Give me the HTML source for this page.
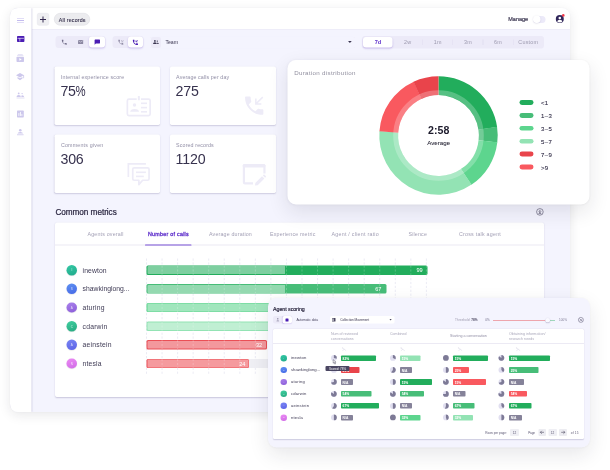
<!DOCTYPE html>
<html lang="en"><head><meta charset="utf-8"><title>Dashboard</title>
<style>
*{box-sizing:border-box;margin:0;padding:0}
html,body{width:610px;height:470px;overflow:hidden;background:#fff}
body{position:relative;font-family:"Liberation Sans",sans-serif}
div,span,svg{position:absolute;display:block}
.t{white-space:nowrap}
.t i{font-style:normal;display:inline-block;transform:scaleX(.8);transform-origin:0 50%}
svg{overflow:visible}
#z{left:0;top:0;width:1220px;height:940px;transform:scale(.5);transform-origin:0 0}
</style></head><body><div id="z">
<div style="left:20px;top:16px;width:1120px;height:808px;background:#f4f4fe;border-radius:16px;box-shadow:0 6px 24px rgba(30,30,50,.10),0 0 4px rgba(30,30,50,.06);overflow:hidden;"><div style="left:43px;top:0;width:1080px;height:43.4px;background:#fff;border-bottom:1.6px solid #e3e1f3"></div><div style="left:0;top:0;width:42.6px;height:808px;background:#fff;box-shadow:0.8px 0 3.2px rgba(110,100,160,.32)"></div></div>
<div style="left:33.6px;top:36.1px;width:14.6px;height:1.4px;background:#c3bbee;border-radius:0px;"></div>
<div style="left:33.6px;top:40.3px;width:14.6px;height:1.4px;background:#c3bbee;border-radius:0px;"></div>
<div style="left:33.6px;top:44.5px;width:14.6px;height:1.4px;background:#c3bbee;border-radius:0px;"></div>
<svg style="left:33.6px;top:72.2px;" width="14.8" height="12" viewBox="0 0 74 60"><rect x="0" y="0" width="74" height="60" rx="7" fill="#4a1cb4"/><rect x="5" y="19" width="64" height="6" fill="#fff"/><rect x="26" y="22" width="6" height="33" fill="#fff"/></svg>
<svg style="left:33.4px;top:108px;" width="15" height="16" viewBox="0 0 75 80"><rect x="13" y="2" width="49" height="5" fill="#cdc8ec"/><rect x="6" y="14" width="63" height="5" fill="#cdc8ec"/><rect x="0" y="28" width="75" height="52" rx="7" fill="#cdc8ec"/><path d="M29 41 L52 54 L29 67Z" fill="#fff"/></svg>
<svg style="left:32.4px;top:145.6px;" width="17.6" height="14.8" viewBox="0 0 88 74"><path d="M40 0 L0 22 L40 44 L73 26 L73 52 L81 52 L81 22 Z" fill="#cdc8ec"/><path d="M15 39 L15 56 L40 72 L65 56 L65 39 L40 53 Z" fill="#cdc8ec"/></svg>
<svg style="left:32.6px;top:184.6px;" width="16" height="11.6" viewBox="0 0 80 58"><circle cx="22" cy="9" r="9" fill="#cdc8ec"/><circle cx="56" cy="11" r="7" fill="#cdc8ec"/><path d="M0 46 Q0 26 22 26 Q44 26 44 46 Z" fill="#cdc8ec"/><path d="M48 46 Q46 30 56 28 Q76 28 76 46 Z" fill="#cdc8ec"/><rect x="0" y="52" width="80" height="6" fill="#cdc8ec"/></svg>
<svg style="left:34.2px;top:220.8px;" width="13.6" height="13.8" viewBox="0 0 68 69"><rect width="68" height="69" rx="7" fill="#cdc8ec"/><rect x="15" y="26" width="8" height="28" fill="#fff"/><rect x="30" y="14" width="8" height="40" fill="#fff"/><rect x="45" y="36" width="8" height="18" fill="#fff"/></svg>
<svg style="left:34.2px;top:258.4px;" width="13.2" height="12.8" viewBox="0 0 66 64"><circle cx="33" cy="13" r="13" fill="#cdc8ec"/><path d="M6 46 Q6 30 33 30 Q60 30 60 46 Z" fill="#cdc8ec"/><rect x="0" y="54" width="66" height="8" fill="#cdc8ec"/></svg>
<div style="left:74.2px;top:26.2px;width:24.2px;height:25px;background:#efeff2;border-radius:4px;border:1px solid #e4e4ea;"></div>
<div style="left:80.4px;top:37.9px;width:11.8px;height:1.7px;background:#33284f;border-radius:0px;"></div>
<div style="left:85.44px;top:32.84px;width:1.7px;height:11.8px;background:#33284f;border-radius:0px;"></div>
<div style="left:108.2px;top:26.4px;width:71.6px;height:25px;background:#ececef;border-radius:12.6px;border:1px solid #dbdbe1;"></div>
<span class="t" style="left:117.4px;top:33.7px;font-size:10.6px;line-height:10.6px;color:#3a3550;letter-spacing:0.36px;-webkit-text-stroke:0.24px #3a3550;">All records</span>
<span class="t" style="left:1016.4px;top:32.3px;font-size:11px;line-height:11px;color:#3a3550;letter-spacing:0.04px;-webkit-text-stroke:0.36px #3a3550;">Manage</span>
<div style="left:1065.6px;top:31.8px;width:25.6px;height:14px;background:#eceaf9;border-radius:7px;"></div>
<div style="left:1066px;top:31.2px;width:15.2px;height:15.2px;background:#fff;border-radius:8px;box-shadow:0 1px 3px rgba(60,50,110,.18);"></div>
<svg style="left:1110.6px;top:28px;" width="18.8" height="18.8" viewBox="0 0 94 94"><circle cx="43" cy="51" r="40" fill="#30265a"/><circle cx="43" cy="40" r="13" fill="#fff"/><path d="M17 76 Q20 58 43 58 Q66 58 69 76 Q58 86 43 86 Q28 86 17 76Z" fill="#fff"/><circle cx="78" cy="14" r="13" fill="#f0384a"/></svg>
<div style="left:111.4px;top:72px;width:99.8px;height:24.2px;background:#eceaf8;border-radius:6px;"></div>
<div style="left:178.4px;top:73.2px;width:32px;height:21.8px;background:#fff;border-radius:6px;box-shadow:0 2px 4px rgba(84,36,194,.25);"></div>
<div style="left:224.8px;top:72px;width:62.4px;height:24.2px;background:#eceaf8;border-radius:6px;"></div>
<div style="left:255.8px;top:73.2px;width:30.6px;height:21.8px;background:#fff;border-radius:6px;box-shadow:0 2px 4px rgba(84,36,194,.25);"></div>
<svg style="left:122px;top:78.2px;" width="13.2" height="13.2" viewBox="0 0 24 24"><path d="M20 15.5c-1.25 0-2.45-.2-3.57-.57-.35-.11-.74-.03-1.02.24l-2.2 2.2c-2.83-1.44-5.15-3.75-6.59-6.59l2.2-2.21c.28-.26.36-.65.25-1C8.7 6.45 8.5 5.25 8.5 4c0-.55-.45-1-1-1H4c-.55 0-1 .45-1 1 0 9.390 7.610 17 17 17 .55 0 1-.45 1-1v-3.500c0-.55-.45-1-1-1z" fill="#6f6b88"/></svg>
<svg style="left:156.4px;top:80.2px;" width="10.4" height="8" viewBox="0 0 50 39"><rect width="50" height="39" rx="5" fill="#8c88a2"/><path d="M5 8 L25 21 L45 8" stroke="#eceaf8" stroke-width="5" fill="none"/></svg>
<svg style="left:189px;top:79.2px;" width="11.2" height="10.4" viewBox="0 0 58 56"><path d="M5 0 H53 Q58 0 58 5 V38 Q58 43 53 43 H14 L0 56 V5 Q0 0 5 0Z" fill="#4a1cb4"/></svg>
<svg style="left:234.8px;top:78.2px;" width="13.2" height="13.2" viewBox="0 0 24 24"><path d="M20 15.5c-1.25 0-2.45-.2-3.57-.57-.35-.11-.74-.03-1.02.24l-2.2 2.2c-2.83-1.44-5.15-3.75-6.59-6.59l2.2-2.21c.28-.26.36-.65.25-1C8.7 6.45 8.5 5.25 8.5 4c0-.55-.45-1-1-1H4c-.55 0-1 .45-1 1 0 9.390 7.610 17 17 17 .55 0 1-.45 1-1v-3.500c0-.55-.45-1-1-1z" fill="#8c88a2"/><path d="M13 4 L17.500 8.500 L22 4 M14 10.500 H21" stroke="#8c88a2" stroke-width="1.700" fill="none"/></svg>
<svg style="left:264.4px;top:78px;" width="13.6" height="13.6" viewBox="0 0 24 24"><path d="M20 15.5c-1.25 0-2.45-.2-3.57-.57-.35-.11-.74-.03-1.02.24l-2.2 2.2c-2.83-1.44-5.15-3.75-6.59-6.59l2.2-2.21c.28-.26.36-.65.25-1C8.7 6.45 8.5 5.25 8.5 4c0-.55-.45-1-1-1H4c-.55 0-1 .45-1 1 0 9.390 7.610 17 17 17 .55 0 1-.45 1-1v-3.500c0-.55-.45-1-1-1z" fill="#4a1cb4"/><path d="M20.400 3.600 L14 10 M14 4.500 V10 H19.500" stroke="#4a1cb4" stroke-width="2.200" fill="none"/></svg>
<div style="left:300px;top:72.6px;width:410px;height:24.4px;background:transparent;border-radius:4px;border-top:1.2px solid #efedf9;border-bottom:1.2px solid #efedf9;"></div>
<div style="left:302.4px;top:73.8px;width:20px;height:22px;background:#edebf8;border-radius:4px;"></div>
<svg style="left:306.4px;top:80.2px;" width="11.6" height="8.2" viewBox="0 0 58 41"><circle cx="19" cy="9" r="9" fill="#3a3550"/><circle cx="43" cy="11" r="7" fill="#3a3550"/><path d="M0 41 Q0 23 19 23 Q38 23 38 41Z" fill="#3a3550"/><path d="M41 41 Q42 27 45 24 Q58 25 58 41Z" fill="#3a3550"/></svg>
<span class="t" style="left:330.8px;top:79.6px;font-size:10.4px;line-height:10.4px;color:#3a3550;letter-spacing:-0.06px;">Team</span>
<svg style="left:695.8px;top:82.2px;" width="7.6" height="4.2" viewBox="0 0 46 26"><path d="M0 0 H46 L23 26Z" fill="#3a3550"/></svg>
<div style="left:724px;top:72px;width:364px;height:24.6px;background:#eceaf8;border-radius:6px;"></div>
<div style="left:726.4px;top:73.6px;width:58.8px;height:21.6px;background:#fff;border-radius:6px;box-shadow:0 2px 4px rgba(84,36,194,.28);"></div>
<span class="t" style="left:755.8px;transform:translateX(-50%);top:79px;font-size:11.2px;line-height:11.2px;color:#5e2fcb;font-weight:700;">7d</span>
<span class="t" style="left:815.2px;transform:translateX(-50%);top:79.2px;font-size:10.8px;line-height:10.8px;color:#9d9aaf;letter-spacing:0.5px;">2w</span>
<span class="t" style="left:875.6px;transform:translateX(-50%);top:79.2px;font-size:10.8px;line-height:10.8px;color:#9d9aaf;letter-spacing:0.5px;">1m</span>
<span class="t" style="left:935.8px;transform:translateX(-50%);top:79.2px;font-size:10.8px;line-height:10.8px;color:#9d9aaf;letter-spacing:0.5px;">3m</span>
<span class="t" style="left:996.2px;transform:translateX(-50%);top:79.2px;font-size:10.8px;line-height:10.8px;color:#9d9aaf;letter-spacing:0.5px;">6m</span>
<span class="t" style="left:1056.6px;transform:translateX(-50%);top:79.2px;font-size:10.8px;line-height:10.8px;color:#9d9aaf;letter-spacing:0.5px;">Custom</span>
<div style="left:844.6px;top:79px;width:1.2px;height:11.2px;background:#e0ddf0;border-radius:0px;"></div>
<div style="left:905px;top:79px;width:1.2px;height:11.2px;background:#e0ddf0;border-radius:0px;"></div>
<div style="left:965.4px;top:79px;width:1.2px;height:11.2px;background:#e0ddf0;border-radius:0px;"></div>
<div style="left:1025.8px;top:79px;width:1.2px;height:11.2px;background:#e0ddf0;border-radius:0px;"></div>
<div style="left:109.2px;top:133.4px;width:211.2px;height:116.6px;background:#fff;border-radius:3.6px;box-shadow:0 1.6px 3px rgba(70,60,120,.22);"></div>
<span class="t" style="left:121.8px;top:149.1px;font-size:10.6px;line-height:10.6px;color:#918ea6;letter-spacing:0.31px;">Internal experience score</span>
<span class="t" style="left:120.8px;top:167.6px;font-size:28.4px;line-height:28.4px;color:#37324e;letter-spacing:-0.7px;">75<i>%</i></span>
<div style="left:339.6px;top:133.4px;width:212.4px;height:116.6px;background:#fff;border-radius:3.6px;box-shadow:0 1.6px 3px rgba(70,60,120,.22);"></div>
<span class="t" style="left:352.2px;top:149.1px;font-size:10.6px;line-height:10.6px;color:#918ea6;letter-spacing:0.22px;">Average calls per day</span>
<span class="t" style="left:351.2px;top:167.6px;font-size:28.4px;line-height:28.4px;color:#37324e;letter-spacing:-0.46px;">275</span>
<div style="left:109.2px;top:269.4px;width:211.2px;height:116.6px;background:#fff;border-radius:3.6px;box-shadow:0 1.6px 3px rgba(70,60,120,.22);"></div>
<span class="t" style="left:121.8px;top:285.1px;font-size:10.6px;line-height:10.6px;color:#918ea6;letter-spacing:0.41px;">Comments given</span>
<span class="t" style="left:120.8px;top:303.6px;font-size:28.4px;line-height:28.4px;color:#37324e;letter-spacing:-0.33px;">306</span>
<div style="left:339.6px;top:269.4px;width:212.4px;height:116.6px;background:#fff;border-radius:3.6px;box-shadow:0 1.6px 3px rgba(70,60,120,.22);"></div>
<span class="t" style="left:352.2px;top:285.1px;font-size:10.6px;line-height:10.6px;color:#918ea6;letter-spacing:0.27px;">Scored records</span>
<span class="t" style="left:351.2px;top:303.6px;font-size:28.4px;line-height:28.4px;color:#37324e;letter-spacing:-0.27px;">1120</span>
<svg style="left:250px;top:190px;" width="56" height="46" viewBox="125 95 28 23"><rect x="127.35" y="99.05" width="22.8" height="16.6" rx="1.6" fill="none" stroke="#edebf7" stroke-width="1.7"/><rect x="136.7" y="97.5" width="4.3" height="3" fill="#fff"/><rect x="137.85" y="96" width="2" height="4.2" rx=".5" fill="#edebf7"/><circle cx="134.5" cy="105.1" r="1.75" fill="#edebf7"/><path d="M130.2 111.8 Q130.2 108.9 134.6 108.9 Q139 108.9 139 111.8Z" fill="#edebf7"/><rect x="141" y="102.5" width="6" height="1.6" fill="#edebf7"/><rect x="141" y="106.8" width="6" height="1.6" fill="#edebf7"/><rect x="141" y="111" width="6" height="1.6" fill="#edebf7"/></svg>
<svg style="left:483.6px;top:187.4px;" width="48.8" height="48.8" viewBox="0 0 24 24"><path d="M20 15.5c-1.25 0-2.45-.2-3.57-.57-.35-.11-.74-.03-1.02.24l-2.2 2.2c-2.83-1.44-5.15-3.75-6.59-6.59l2.2-2.21c.28-.26.36-.65.25-1C8.7 6.45 8.5 5.25 8.5 4c0-.55-.45-1-1-1H4c-.55 0-1 .45-1 1 0 9.390 7.610 17 17 17 .55 0 1-.45 1-1v-3.500c0-.55-.45-1-1-1z" fill="#edebf7"/><path d="M20.4 3.6 L13.6 10.4 M13.6 5 V10.4 H19" stroke="#edebf7" stroke-width="1.5" fill="none"/></svg>
<svg style="left:252px;top:322px;" width="52" height="52" viewBox="126 161 26 26"><path d="M128.35 177 V163.95 H145.9" fill="none" stroke="#edebf7" stroke-width="1.7"/><path d="M134.2 167.85 H147.6 Q149.05 167.85 149.05 169.3 V178.8 Q149.05 180.25 147.6 180.25 H142.6 L138.85 184.6 V180.25 H134.2 Q132.75 180.25 132.75 178.8 V169.3 Q132.75 167.85 134.2 167.85Z" fill="none" stroke="#edebf7" stroke-width="1.7" stroke-linejoin="round"/><rect x="136" y="171.5" width="9.9" height="1.6" fill="#edebf7"/><rect x="136" y="175.6" width="7.8" height="1.6" fill="#edebf7"/></svg>
<svg style="left:482px;top:324px;" width="52" height="50" viewBox="241 162 26 25"><path d="M253 183.3 H245 Q243.9 183.3 243.9 182.2 V166 H264.45 V173.6" fill="none" stroke="#edebf7" stroke-width="2.2"/><rect x="242.8" y="164" width="22.5" height="3.5" rx="1.2" fill="#edebf7"/><path d="M255 185.6 L255.3 182.9 L262 176.2 L264.4 178.6 L257.7 185.3Z" fill="#edebf7"/><path d="M262.8 175.4 L263.5 174.7 Q264 174.2 264.6 174.8 L265.8 176 Q266.3 176.6 265.8 177.1 L265.1 177.8Z" fill="#edebf7"/></svg>
<span class="t" style="left:110.8px;top:415.8px;font-size:16.4px;line-height:16.4px;color:#2a2640;letter-spacing:-0.09px;-webkit-text-stroke:0.44px #2a2640;">Common metrics</span>
<svg style="left:1072.2px;top:415.6px;" width="15.6" height="15.6" viewBox="0 0 80 80"><circle cx="40" cy="40" r="34" fill="none" stroke="#4a4660" stroke-width="6"/><path d="M40 20 V46 M28 36 L40 48 L52 36" stroke="#4a4660" stroke-width="7" fill="none"/><rect x="26" y="54" width="28" height="6" fill="#4a4660"/></svg>
<div style="left:110px;top:445px;width:978px;height:349.2px;background:#fff;border-radius:4px;box-shadow:0 1.6px 3px rgba(70,60,120,.25);"></div>
<div style="left:110px;top:489.2px;width:978px;height:1.4px;background:#eceaf4;border-radius:0px;"></div>
<span class="t" style="left:175px;top:462.7px;font-size:10.6px;line-height:10.6px;color:#a19eb4;letter-spacing:0.35px;">Agents overall</span>
<span class="t" style="left:418px;top:462.7px;font-size:10.6px;line-height:10.6px;color:#a19eb4;letter-spacing:0.34px;">Average duration</span>
<span class="t" style="left:540px;top:462.7px;font-size:10.6px;line-height:10.6px;color:#a19eb4;letter-spacing:0.37px;">Experience metric</span>
<span class="t" style="left:663px;top:462.7px;font-size:10.6px;line-height:10.6px;color:#a19eb4;letter-spacing:0.51px;">Agent / client ratio</span>
<span class="t" style="left:817px;top:462.7px;font-size:10.6px;line-height:10.6px;color:#a19eb4;letter-spacing:0.32px;">Silence</span>
<span class="t" style="left:918px;top:462.7px;font-size:10.6px;line-height:10.6px;color:#a19eb4;letter-spacing:0.47px;">Cross talk agent</span>
<span class="t" style="left:296px;top:462.7px;font-size:10.6px;line-height:10.6px;color:#5e2fcb;letter-spacing:0.56px;-webkit-text-stroke:0.6px #5e2fcb;">Number of calls</span>
<div style="left:290px;top:488.6px;width:93px;height:2.2px;background:#7a52d6;border-radius:1px;"></div>
<svg style="left:292px;top:516.6px;" width="564" height="232" viewBox="0 0 282 116"><g stroke="#dedded" stroke-width=".6" stroke-dasharray="2.2 1.7"><line x1="0.50" y1="0" x2="0.50" y2="116"/><line x1="16.05" y1="0" x2="16.05" y2="116"/><line x1="31.60" y1="0" x2="31.60" y2="116"/><line x1="47.15" y1="0" x2="47.15" y2="116"/><line x1="62.70" y1="0" x2="62.70" y2="116"/><line x1="78.25" y1="0" x2="78.25" y2="116"/><line x1="93.80" y1="0" x2="93.80" y2="116"/><line x1="109.35" y1="0" x2="109.35" y2="116"/><line x1="124.90" y1="0" x2="124.90" y2="116"/><line x1="140.45" y1="0" x2="140.45" y2="116"/><line x1="156.00" y1="0" x2="156.00" y2="116"/><line x1="171.55" y1="0" x2="171.55" y2="116"/><line x1="187.10" y1="0" x2="187.10" y2="116"/><line x1="202.65" y1="0" x2="202.65" y2="116"/><line x1="218.20" y1="0" x2="218.20" y2="116"/><line x1="233.75" y1="0" x2="233.75" y2="116"/><line x1="249.30" y1="0" x2="249.30" y2="116"/><line x1="264.85" y1="0" x2="264.85" y2="116"/><line x1="280.40" y1="0" x2="280.40" y2="116"/></g></svg>
<div style="left:133.2px;top:529.8px;width:20.8px;height:20.8px;background:linear-gradient(160deg,#35c9a5,#1fa98a);border-radius:10.4px;box-shadow:0 1px 2px rgba(0,0,0,.15);"></div>
<span class="t" style="left:143.6px;transform:translateX(-50%);top:537.4px;font-size:6px;line-height:6px;color:#fff;opacity:.75;">I</span>
<span class="t" style="left:165.2px;top:533.8px;font-size:13.6px;line-height:13.6px;color:#3f3b55;letter-spacing:0.19px;">inewton</span>
<div style="left:293px;top:530.8px;width:561.6px;height:18.8px;background:#22ad5c;border-radius:3px;overflow:hidden;"><div style="left:1.6px;top:1.6px;width:275.6px;height:15.6px;background:rgba(255,255,255,.42);border-radius:2px 0 0 2px"></div><svg style="left:-1px;top:0" width="564" height="18.8" viewBox="0 0 282 9.4"><g stroke="rgba(255,255,255,.38)" stroke-width=".6" stroke-dasharray="2.2 1.7"><line x1="16.05" y1="0" x2="16.05" y2="9.4"/><line x1="31.60" y1="0" x2="31.60" y2="9.4"/><line x1="47.15" y1="0" x2="47.15" y2="9.4"/><line x1="62.70" y1="0" x2="62.70" y2="9.4"/><line x1="78.25" y1="0" x2="78.25" y2="9.4"/><line x1="93.80" y1="0" x2="93.80" y2="9.4"/><line x1="109.35" y1="0" x2="109.35" y2="9.4"/><line x1="124.90" y1="0" x2="124.90" y2="9.4"/><line x1="140.45" y1="0" x2="140.45" y2="9.4"/><line x1="156.00" y1="0" x2="156.00" y2="9.4"/><line x1="171.55" y1="0" x2="171.55" y2="9.4"/><line x1="187.10" y1="0" x2="187.10" y2="9.4"/><line x1="202.65" y1="0" x2="202.65" y2="9.4"/><line x1="218.20" y1="0" x2="218.20" y2="9.4"/><line x1="233.75" y1="0" x2="233.75" y2="9.4"/><line x1="249.30" y1="0" x2="249.30" y2="9.4"/><line x1="264.85" y1="0" x2="264.85" y2="9.4"/><line x1="280.40" y1="0" x2="280.40" y2="9.4"/></g></svg></div>
<span class="t" style="left:839.2px;transform:translateX(-50%);top:534.8px;font-size:11.2px;line-height:11.2px;color:#fff;">99</span>
<div style="left:133.2px;top:567.4px;width:20.8px;height:20.8px;background:linear-gradient(160deg,#5f92f2,#4668e6);border-radius:10.4px;box-shadow:0 1px 2px rgba(0,0,0,.15);"></div>
<span class="t" style="left:143.6px;transform:translateX(-50%);top:575px;font-size:6px;line-height:6px;color:#fff;opacity:.75;">S</span>
<span class="t" style="left:165.2px;top:571.4px;font-size:13.6px;line-height:13.6px;color:#3f3b55;letter-spacing:0.01px;">shawkinglong...</span>
<div style="left:293px;top:568.4px;width:479.6px;height:18.8px;background:#47bd78;border-radius:3px;overflow:hidden;"><div style="left:1.6px;top:1.6px;width:275.6px;height:15.6px;background:rgba(255,255,255,.42);border-radius:2px 0 0 2px"></div><svg style="left:-1px;top:0" width="564" height="18.8" viewBox="0 0 282 9.4"><g stroke="rgba(255,255,255,.38)" stroke-width=".6" stroke-dasharray="2.2 1.7"><line x1="16.05" y1="0" x2="16.05" y2="9.4"/><line x1="31.60" y1="0" x2="31.60" y2="9.4"/><line x1="47.15" y1="0" x2="47.15" y2="9.4"/><line x1="62.70" y1="0" x2="62.70" y2="9.4"/><line x1="78.25" y1="0" x2="78.25" y2="9.4"/><line x1="93.80" y1="0" x2="93.80" y2="9.4"/><line x1="109.35" y1="0" x2="109.35" y2="9.4"/><line x1="124.90" y1="0" x2="124.90" y2="9.4"/><line x1="140.45" y1="0" x2="140.45" y2="9.4"/><line x1="156.00" y1="0" x2="156.00" y2="9.4"/><line x1="171.55" y1="0" x2="171.55" y2="9.4"/><line x1="187.10" y1="0" x2="187.10" y2="9.4"/><line x1="202.65" y1="0" x2="202.65" y2="9.4"/><line x1="218.20" y1="0" x2="218.20" y2="9.4"/><line x1="233.75" y1="0" x2="233.75" y2="9.4"/><line x1="249.30" y1="0" x2="249.30" y2="9.4"/><line x1="264.85" y1="0" x2="264.85" y2="9.4"/><line x1="280.40" y1="0" x2="280.40" y2="9.4"/></g></svg></div>
<span class="t" style="left:756.6px;transform:translateX(-50%);top:572.4px;font-size:11.2px;line-height:11.2px;color:#fff;">67</span>
<div style="left:133.2px;top:604.6px;width:20.8px;height:20.8px;background:linear-gradient(160deg,#ab82ec,#8a5cd8);border-radius:10.4px;box-shadow:0 1px 2px rgba(0,0,0,.15);"></div>
<span class="t" style="left:143.6px;transform:translateX(-50%);top:612.2px;font-size:6px;line-height:6px;color:#fff;opacity:.75;">A</span>
<span class="t" style="left:165.2px;top:608.6px;font-size:13.6px;line-height:13.6px;color:#3f3b55;letter-spacing:0.35px;">aturing</span>
<div style="left:293px;top:605.6px;width:507px;height:18.8px;background:#5dd58e;border-radius:3px;overflow:hidden;"><div style="left:1.6px;top:1.6px;width:275.6px;height:15.6px;background:rgba(255,255,255,.42);border-radius:2px 0 0 2px"></div><svg style="left:-1px;top:0" width="564" height="18.8" viewBox="0 0 282 9.4"><g stroke="rgba(255,255,255,.38)" stroke-width=".6" stroke-dasharray="2.2 1.7"><line x1="16.05" y1="0" x2="16.05" y2="9.4"/><line x1="31.60" y1="0" x2="31.60" y2="9.4"/><line x1="47.15" y1="0" x2="47.15" y2="9.4"/><line x1="62.70" y1="0" x2="62.70" y2="9.4"/><line x1="78.25" y1="0" x2="78.25" y2="9.4"/><line x1="93.80" y1="0" x2="93.80" y2="9.4"/><line x1="109.35" y1="0" x2="109.35" y2="9.4"/><line x1="124.90" y1="0" x2="124.90" y2="9.4"/><line x1="140.45" y1="0" x2="140.45" y2="9.4"/><line x1="156.00" y1="0" x2="156.00" y2="9.4"/><line x1="171.55" y1="0" x2="171.55" y2="9.4"/><line x1="187.10" y1="0" x2="187.10" y2="9.4"/><line x1="202.65" y1="0" x2="202.65" y2="9.4"/><line x1="218.20" y1="0" x2="218.20" y2="9.4"/><line x1="233.75" y1="0" x2="233.75" y2="9.4"/><line x1="249.30" y1="0" x2="249.30" y2="9.4"/><line x1="264.85" y1="0" x2="264.85" y2="9.4"/><line x1="280.40" y1="0" x2="280.40" y2="9.4"/></g></svg></div>
<div style="left:133.2px;top:642px;width:20.8px;height:20.8px;background:linear-gradient(160deg,#41d0a0,#27a880);border-radius:10.4px;box-shadow:0 1px 2px rgba(0,0,0,.15);"></div>
<span class="t" style="left:143.6px;transform:translateX(-50%);top:649.6px;font-size:6px;line-height:6px;color:#fff;opacity:.75;">C</span>
<span class="t" style="left:165.2px;top:646px;font-size:13.6px;line-height:13.6px;color:#3f3b55;letter-spacing:0.39px;">cdarwin</span>
<div style="left:293px;top:643px;width:367px;height:18.8px;background:#93e3b4;border-radius:3px;overflow:hidden;"><div style="left:1.6px;top:1.6px;width:275.6px;height:15.6px;background:rgba(255,255,255,.42);border-radius:2px 0 0 2px"></div><svg style="left:-1px;top:0" width="564" height="18.8" viewBox="0 0 282 9.4"><g stroke="rgba(255,255,255,.38)" stroke-width=".6" stroke-dasharray="2.2 1.7"><line x1="16.05" y1="0" x2="16.05" y2="9.4"/><line x1="31.60" y1="0" x2="31.60" y2="9.4"/><line x1="47.15" y1="0" x2="47.15" y2="9.4"/><line x1="62.70" y1="0" x2="62.70" y2="9.4"/><line x1="78.25" y1="0" x2="78.25" y2="9.4"/><line x1="93.80" y1="0" x2="93.80" y2="9.4"/><line x1="109.35" y1="0" x2="109.35" y2="9.4"/><line x1="124.90" y1="0" x2="124.90" y2="9.4"/><line x1="140.45" y1="0" x2="140.45" y2="9.4"/><line x1="156.00" y1="0" x2="156.00" y2="9.4"/><line x1="171.55" y1="0" x2="171.55" y2="9.4"/><line x1="187.10" y1="0" x2="187.10" y2="9.4"/><line x1="202.65" y1="0" x2="202.65" y2="9.4"/><line x1="218.20" y1="0" x2="218.20" y2="9.4"/><line x1="233.75" y1="0" x2="233.75" y2="9.4"/><line x1="249.30" y1="0" x2="249.30" y2="9.4"/><line x1="264.85" y1="0" x2="264.85" y2="9.4"/><line x1="280.40" y1="0" x2="280.40" y2="9.4"/></g></svg></div>
<div style="left:133.2px;top:679.2px;width:20.8px;height:20.8px;background:linear-gradient(160deg,#7a86f4,#5b62e6);border-radius:10.4px;box-shadow:0 1px 2px rgba(0,0,0,.15);"></div>
<span class="t" style="left:143.6px;transform:translateX(-50%);top:686.8px;font-size:6px;line-height:6px;color:#fff;opacity:.75;">A</span>
<span class="t" style="left:165.2px;top:683.2px;font-size:13.6px;line-height:13.6px;color:#3f3b55;letter-spacing:0.42px;">aeinstein</span>
<div style="left:293px;top:680.2px;width:240.6px;height:18.8px;background:#ea4f56;border-radius:3px;overflow:hidden;"><div style="left:1.6px;top:1.6px;width:237.4px;height:15.6px;background:rgba(255,255,255,.42);border-radius:2px"></div><svg style="left:-1px;top:0" width="564" height="18.8" viewBox="0 0 282 9.4"><g stroke="rgba(255,255,255,.38)" stroke-width=".6" stroke-dasharray="2.2 1.7"><line x1="16.05" y1="0" x2="16.05" y2="9.4"/><line x1="31.60" y1="0" x2="31.60" y2="9.4"/><line x1="47.15" y1="0" x2="47.15" y2="9.4"/><line x1="62.70" y1="0" x2="62.70" y2="9.4"/><line x1="78.25" y1="0" x2="78.25" y2="9.4"/><line x1="93.80" y1="0" x2="93.80" y2="9.4"/><line x1="109.35" y1="0" x2="109.35" y2="9.4"/><line x1="124.90" y1="0" x2="124.90" y2="9.4"/><line x1="140.45" y1="0" x2="140.45" y2="9.4"/><line x1="156.00" y1="0" x2="156.00" y2="9.4"/><line x1="171.55" y1="0" x2="171.55" y2="9.4"/><line x1="187.10" y1="0" x2="187.10" y2="9.4"/><line x1="202.65" y1="0" x2="202.65" y2="9.4"/><line x1="218.20" y1="0" x2="218.20" y2="9.4"/><line x1="233.75" y1="0" x2="233.75" y2="9.4"/><line x1="249.30" y1="0" x2="249.30" y2="9.4"/><line x1="264.85" y1="0" x2="264.85" y2="9.4"/><line x1="280.40" y1="0" x2="280.40" y2="9.4"/></g></svg></div>
<span class="t" style="left:518px;transform:translateX(-50%);top:684.2px;font-size:11.2px;line-height:11.2px;color:#fff;">32</span>
<div style="left:133.2px;top:716.6px;width:20.8px;height:20.8px;background:linear-gradient(160deg,#ec8af4,#cf6be6);border-radius:10.4px;box-shadow:0 1px 2px rgba(0,0,0,.15);"></div>
<span class="t" style="left:143.6px;transform:translateX(-50%);top:724.2px;font-size:6px;line-height:6px;color:#fff;opacity:.75;">N</span>
<span class="t" style="left:165.2px;top:720.6px;font-size:13.6px;line-height:13.6px;color:#3f3b55;letter-spacing:0.32px;">ntesla</span>
<div style="left:293px;top:717.6px;width:320px;height:18.8px;background:#efeff4;border-radius:3px;"></div>
<div style="left:293px;top:717.6px;width:205.4px;height:18.8px;background:#ee5158;border-radius:3px;overflow:hidden;"><div style="left:1.6px;top:1.6px;width:202.2px;height:15.6px;background:rgba(255,255,255,.42);border-radius:2px"></div><svg style="left:-1px;top:0" width="564" height="18.8" viewBox="0 0 282 9.4"><g stroke="rgba(255,255,255,.38)" stroke-width=".6" stroke-dasharray="2.2 1.7"><line x1="16.05" y1="0" x2="16.05" y2="9.4"/><line x1="31.60" y1="0" x2="31.60" y2="9.4"/><line x1="47.15" y1="0" x2="47.15" y2="9.4"/><line x1="62.70" y1="0" x2="62.70" y2="9.4"/><line x1="78.25" y1="0" x2="78.25" y2="9.4"/><line x1="93.80" y1="0" x2="93.80" y2="9.4"/><line x1="109.35" y1="0" x2="109.35" y2="9.4"/><line x1="124.90" y1="0" x2="124.90" y2="9.4"/><line x1="140.45" y1="0" x2="140.45" y2="9.4"/><line x1="156.00" y1="0" x2="156.00" y2="9.4"/><line x1="171.55" y1="0" x2="171.55" y2="9.4"/><line x1="187.10" y1="0" x2="187.10" y2="9.4"/><line x1="202.65" y1="0" x2="202.65" y2="9.4"/><line x1="218.20" y1="0" x2="218.20" y2="9.4"/><line x1="233.75" y1="0" x2="233.75" y2="9.4"/><line x1="249.30" y1="0" x2="249.30" y2="9.4"/><line x1="264.85" y1="0" x2="264.85" y2="9.4"/><line x1="280.40" y1="0" x2="280.40" y2="9.4"/></g></svg></div>
<span class="t" style="left:484.6px;transform:translateX(-50%);top:721.6px;font-size:11.2px;line-height:11.2px;color:#fff;">24</span>
<div style="left:574.8px;top:119.8px;width:604.4px;height:289.2px;background:#fff;border-radius:17px;box-shadow:0 14px 40px rgba(30,30,50,.105),0 0 6px rgba(30,30,50,.05);"></div>
<span class="t" style="left:588.4px;top:138.6px;font-size:12.4px;line-height:12.4px;color:#918f9f;letter-spacing:0.61px;">Duration distribution</span>
<svg style="left:737px;top:131px;" width="280" height="280" viewBox="0 0 140 140"><path d="M70.00 10.80 A59.2 59.2 0 0 1 128.59 61.56 L109.99 64.24 A40.4 40.4 0 0 0 70.00 29.60Z" fill="#22ad5c"/><path d="M128.55 61.25 A59.2 59.2 0 0 1 128.77 77.11 L110.11 74.85 A40.4 40.4 0 0 0 109.96 64.03Z" fill="#47bd78"/><path d="M128.81 76.80 A59.2 59.2 0 0 1 102.85 119.25 L92.42 103.61 A40.4 40.4 0 0 0 110.13 74.64Z" fill="#5dd58e"/><path d="M103.10 119.08 A59.2 59.2 0 0 1 10.97 65.56 L29.71 66.97 A40.4 40.4 0 0 0 92.59 103.49Z" fill="#93e3b4"/><path d="M10.94 65.87 A59.2 59.2 0 0 1 45.26 16.22 L53.12 33.30 A40.4 40.4 0 0 0 29.70 67.18Z" fill="#f9595f"/><path d="M44.98 16.35 A59.2 59.2 0 0 1 70.00 10.80 L70.00 29.60 A40.4 40.4 0 0 0 52.93 33.39Z" fill="#e9444b"/><circle cx="70" cy="70" r="42.849999999999994" fill="none" stroke="rgba(255,255,255,.24)" stroke-width="4.899999999999999"/></svg>
<span class="t" style="left:877.4px;transform:translateX(-50%);top:250.2px;font-size:21.2px;line-height:21.2px;color:#1d1b2c;font-weight:700;">2:58</span>
<span class="t" style="left:877.4px;transform:translateX(-50%);top:279.4px;font-size:12.4px;line-height:12.4px;color:#1d1b2c;-webkit-text-stroke:0.1px #1d1b2c;">Average</span>
<div style="left:1039.2px;top:200.1px;width:27.4px;height:9.8px;background:#22ad5c;border-radius:4.9px;"></div>
<span class="t" style="left:1081.8px;top:199.8px;font-size:12px;line-height:12px;color:#2f2b45;-webkit-text-stroke:0.2px #2f2b45;letter-spacing:0.9px;">&lt;1</span>
<div style="left:1039.2px;top:225.9px;width:27.4px;height:9.8px;background:#47bd78;border-radius:4.9px;"></div>
<span class="t" style="left:1081.8px;top:225.6px;font-size:12px;line-height:12px;color:#2f2b45;-webkit-text-stroke:0.2px #2f2b45;letter-spacing:0.9px;">1–3</span>
<div style="left:1039.2px;top:251.7px;width:27.4px;height:9.8px;background:#5dd58e;border-radius:4.9px;"></div>
<span class="t" style="left:1081.8px;top:251.4px;font-size:12px;line-height:12px;color:#2f2b45;-webkit-text-stroke:0.2px #2f2b45;letter-spacing:0.9px;">3–5</span>
<div style="left:1039.2px;top:277.5px;width:27.4px;height:9.8px;background:#93e3b4;border-radius:4.9px;"></div>
<span class="t" style="left:1081.8px;top:277.2px;font-size:12px;line-height:12px;color:#2f2b45;-webkit-text-stroke:0.2px #2f2b45;letter-spacing:0.9px;">5–7</span>
<div style="left:1039.2px;top:303.3px;width:27.4px;height:9.8px;background:#e9444b;border-radius:4.9px;"></div>
<span class="t" style="left:1081.8px;top:303px;font-size:12px;line-height:12px;color:#2f2b45;-webkit-text-stroke:0.2px #2f2b45;letter-spacing:0.9px;">7–9</span>
<div style="left:1039.2px;top:329.1px;width:27.4px;height:9.8px;background:#f9595f;border-radius:4.9px;"></div>
<span class="t" style="left:1081.8px;top:328.8px;font-size:12px;line-height:12px;color:#2f2b45;-webkit-text-stroke:0.2px #2f2b45;letter-spacing:0.9px;">&gt;9</span>
<div style="left:536.4px;top:595.8px;width:643.2px;height:299.2px;background:#f4f4fe;border-radius:17px;box-shadow:0 14px 40px rgba(30,30,50,.10),0 0 6px rgba(30,30,50,.05);"></div>
<span class="t" style="left:546.2px;top:612.7px;font-size:10.6px;line-height:10.6px;color:#231f38;letter-spacing:-0.12px;-webkit-text-stroke:0.36px #231f38;">Agent scoring</span>
<div style="left:545.6px;top:631.8px;width:38.4px;height:15.6px;background:#eceaf8;border-radius:4px;"></div>
<div style="left:565.2px;top:632.4px;width:18.4px;height:14.4px;background:#fff;border-radius:4px;box-shadow:0 1px 2px rgba(84,36,194,.25);"></div>
<svg style="left:552.8px;top:636px;" width="5.2" height="6.8" viewBox="0 0 26 34"><circle cx="13" cy="8" r="7" fill="#8c88a2"/><path d="M2 24 Q2 17 13 17 Q24 17 24 24Z" fill="#8c88a2"/><rect y="29" width="26" height="4" fill="#8c88a2"/></svg>
<div style="left:571.4px;top:636.6px;width:6px;height:6px;background:#4a1cb4;border-radius:1px;"></div>
<span class="t" style="left:592.8px;top:636.7px;font-size:6.6px;line-height:6.6px;color:#4a4660;letter-spacing:-0.06px;">Automatic data</span>
<div style="left:660.4px;top:631.8px;width:128.4px;height:15.6px;background:#fff;border-radius:3px;"></div>
<div style="left:663.8px;top:636.2px;width:7.6px;height:6.8px;background:#4a4660;border-radius:1px;"><div style="left:1.2px;top:1.2px;width:2.4px;height:4.4px;background:#fff"></div></div>
<span class="t" style="left:680.4px;top:636.8px;font-size:6.4px;line-height:6.4px;color:#3a3550;letter-spacing:-0.09px;">Collection Movement</span>
<svg style="left:778.8px;top:638.4px;" width="4.4" height="2.8" viewBox="0 0 22 14"><path d="M0 0H22L11 14Z" fill="#4a4660"/></svg>
<span class="t" style="left:910px;top:636.9px;font-size:6.2px;line-height:6.2px;color:#9b98ad;letter-spacing:0.16px;">Threshold:</span>
<span class="t" style="left:942.4px;top:636.9px;font-size:6.2px;line-height:6.2px;color:#4a4660;font-weight:700;letter-spacing:0.14px;">78%</span>
<span class="t" style="left:970.4px;top:636.9px;font-size:6.2px;line-height:6.2px;color:#6f6b88;">0%</span>
<div style="left:986.4px;top:639.9px;width:104.6px;height:1.5px;background:#e9565d;border-radius:0px;"></div>
<div style="left:1098px;top:639.9px;width:12.4px;height:1.5px;background:#4dbb7b;border-radius:0px;"></div>
<div style="left:1090.8px;top:636px;width:9.2px;height:9.2px;background:#f9f9ff;border-radius:4.6px;box-shadow:0 1.2px 2.4px rgba(40,30,90,.38);"></div>
<span class="t" style="left:1118px;top:636.9px;font-size:6.2px;line-height:6.2px;color:#7d7a94;">100%</span>
<svg style="left:1156px;top:634.4px;" width="11.6" height="11.6" viewBox="0 0 58 58"><circle cx="29" cy="29" r="25" fill="none" stroke="#4a4663" stroke-width="4.500"/><path d="M15 17 L44 42 M17 38 Q29 24 42 28" stroke="#4a4663" stroke-width="4.500" fill="none"/></svg>
<div style="left:545.6px;top:657.8px;width:622.2px;height:220px;background:#fff;border-radius:3px;box-shadow:0 1.2px 2.4px rgba(70,60,120,.22);"></div>
<div style="left:545.6px;top:686.4px;width:622.2px;height:1.2px;background:#eceaf4;border-radius:0px;"></div>
<span class="t" style="left:662px;top:663.4px;font-size:7.2px;line-height:7.2px;color:#a9a7ba;letter-spacing:0px;">Num of reviewed</span>
<span class="t" style="left:662px;top:673.2px;font-size:7.2px;line-height:7.2px;color:#a9a7ba;letter-spacing:0.06px;">conversations</span>
<span class="t" style="left:780px;top:663.4px;font-size:7.2px;line-height:7.2px;color:#a9a7ba;letter-spacing:0.03px;">Combined</span>
<span class="t" style="left:900px;top:668.4px;font-size:7.2px;line-height:7.2px;color:#8f8ca3;letter-spacing:0px;">Starting a conversation</span>
<span class="t" style="left:1018px;top:663.4px;font-size:7.2px;line-height:7.2px;color:#a9a7ba;letter-spacing:0.13px;">Obtaining information/</span>
<span class="t" style="left:1018px;top:673.2px;font-size:7.2px;line-height:7.2px;color:#a9a7ba;letter-spacing:0.03px;">research needs</span>
<svg style="left:683.6px;top:694.6px;" width="9.2" height="7.6" viewBox="0 0 46 38"><path d="M4 4 L42 32 M4 32 L24 17" stroke="#d3d1e2" stroke-width="4.500" fill="none"/><circle cx="6" cy="5" r="4" fill="none" stroke="#d3d1e2" stroke-width="3"/></svg>
<svg style="left:800.8px;top:694.6px;" width="9.2" height="7.6" viewBox="0 0 46 38"><path d="M4 4 L42 32 M4 32 L24 17" stroke="#d3d1e2" stroke-width="4.500" fill="none"/><circle cx="6" cy="5" r="4" fill="none" stroke="#d3d1e2" stroke-width="3"/></svg>
<svg style="left:916px;top:694.6px;" width="9.2" height="7.6" viewBox="0 0 46 38"><path d="M4 4 L42 32 M4 32 L24 17" stroke="#d3d1e2" stroke-width="4.500" fill="none"/><circle cx="6" cy="5" r="4" fill="none" stroke="#d3d1e2" stroke-width="3"/></svg>
<svg style="left:1032px;top:694.6px;" width="9.2" height="7.6" viewBox="0 0 46 38"><path d="M4 4 L42 32 M4 32 L24 17" stroke="#d3d1e2" stroke-width="4.500" fill="none"/><circle cx="6" cy="5" r="4" fill="none" stroke="#d3d1e2" stroke-width="3"/></svg>
<div style="left:561.2px;top:709.8px;width:12.8px;height:12.8px;background:linear-gradient(160deg,#35c9a5,#1fa98a);border-radius:6.4px;"></div>
<span class="t" style="left:567.6px;transform:translateX(-50%);top:714px;font-size:4.4px;line-height:4.4px;color:#fff;opacity:.6;">I</span>
<span class="t" style="left:582px;top:711.4px;font-size:8.4px;line-height:8.4px;color:#3f3b55;letter-spacing:0.28px;">inewton</span>
<div style="left:561.2px;top:733.6px;width:12.8px;height:12.8px;background:linear-gradient(160deg,#5f92f2,#4668e6);border-radius:6.4px;"></div>
<span class="t" style="left:567.6px;transform:translateX(-50%);top:737.8px;font-size:4.4px;line-height:4.4px;color:#fff;opacity:.6;">S</span>
<span class="t" style="left:582px;top:735.2px;font-size:8.4px;line-height:8.4px;color:#3f3b55;letter-spacing:0.04px;">shawkinglong...</span>
<div style="left:561.2px;top:757.6px;width:12.8px;height:12.8px;background:linear-gradient(160deg,#ab82ec,#8a5cd8);border-radius:6.4px;"></div>
<span class="t" style="left:567.6px;transform:translateX(-50%);top:761.8px;font-size:4.4px;line-height:4.4px;color:#fff;opacity:.6;">A</span>
<span class="t" style="left:582px;top:759.2px;font-size:8.4px;line-height:8.4px;color:#3f3b55;letter-spacing:0.34px;">aturing</span>
<div style="left:561.2px;top:781.4px;width:12.8px;height:12.8px;background:linear-gradient(160deg,#41d0a0,#27a880);border-radius:6.4px;"></div>
<span class="t" style="left:567.6px;transform:translateX(-50%);top:785.6px;font-size:4.4px;line-height:4.4px;color:#fff;opacity:.6;">C</span>
<span class="t" style="left:582px;top:783px;font-size:8.4px;line-height:8.4px;color:#3f3b55;letter-spacing:0.33px;">cdarwin</span>
<div style="left:561.2px;top:805.2px;width:12.8px;height:12.8px;background:linear-gradient(160deg,#7a86f4,#5b62e6);border-radius:6.4px;"></div>
<span class="t" style="left:567.6px;transform:translateX(-50%);top:809.4px;font-size:4.4px;line-height:4.4px;color:#fff;opacity:.6;">A</span>
<span class="t" style="left:582px;top:806.8px;font-size:8.4px;line-height:8.4px;color:#3f3b55;letter-spacing:0.32px;">aeinstein</span>
<div style="left:561.2px;top:828.8px;width:12.8px;height:12.8px;background:linear-gradient(160deg,#ec8af4,#cf6be6);border-radius:6.4px;"></div>
<span class="t" style="left:567.6px;transform:translateX(-50%);top:833px;font-size:4.4px;line-height:4.4px;color:#fff;opacity:.6;">N</span>
<span class="t" style="left:582px;top:830.4px;font-size:8.4px;line-height:8.4px;color:#3f3b55;letter-spacing:0.27px;">ntesla</span>
<svg style="left:662.2px;top:710.4px;" width="11.6" height="11.6" viewBox="0 0 5.8 5.8"><circle cx="2.9" cy="2.9" r="2.9" fill="#e1dff0"/><path d="M2.9 2.9 L2.9 0 A2.9 2.9 0 0 1 5.66 3.80Z" fill="#7d7a96"/></svg>
<div style="left:681.8px;top:710.6px;width:69.8px;height:11.2px;background:#22ad5c;border-radius:1.6px;"></div>
<span class="t" style="left:685.2px;top:713.8px;font-size:6.6px;line-height:6.6px;color:#fff;font-weight:700;">82%</span>
<svg style="left:662.2px;top:734.2px;" width="11.6" height="11.6" viewBox="0 0 5.8 5.8"><circle cx="2.9" cy="2.9" r="2.9" fill="#e1dff0"/><path d="M2.9 2.9 L2.9 0 A2.9 2.9 0 0 1 5.66 3.80Z" fill="#7d7a96"/></svg>
<div style="left:681.8px;top:734.4px;width:37.2px;height:11.2px;background:#e9444b;border-radius:1.6px;"></div>
<span class="t" style="left:685.2px;top:737.6px;font-size:6.6px;line-height:6.6px;color:#fff;font-weight:700;">25%</span>
<svg style="left:662.2px;top:758.2px;" width="11.6" height="11.6" viewBox="0 0 5.8 5.8"><circle cx="2.9" cy="2.9" r="2.9" fill="#e1dff0"/><path d="M2.9 2.9 L2.9 0 A2.9 2.9 0 1 1 0.05 3.44Z" fill="#7d7a96"/></svg>
<div style="left:681.8px;top:758.4px;width:24.2px;height:11.2px;background:#858299;border-radius:1.6px;"></div>
<span class="t" style="left:685.2px;top:761.6px;font-size:6.6px;line-height:6.6px;color:#fff;font-weight:700;">N/A</span>
<svg style="left:662.2px;top:782px;" width="11.6" height="11.6" viewBox="0 0 5.8 5.8"><circle cx="2.9" cy="2.9" r="2.9" fill="#e1dff0"/><path d="M2.9 2.9 L2.9 0 A2.9 2.9 0 1 1 0.55 1.20Z" fill="#7d7a96"/></svg>
<div style="left:681.8px;top:782.2px;width:60.8px;height:11.2px;background:#47bd78;border-radius:1.6px;"></div>
<span class="t" style="left:685.2px;top:785.4px;font-size:6.6px;line-height:6.6px;color:#fff;font-weight:700;">54%</span>
<svg style="left:662.2px;top:805.8px;" width="11.6" height="11.6" viewBox="0 0 5.8 5.8"><circle cx="2.9" cy="2.9" r="2.9" fill="#e1dff0"/><path d="M2.9 2.9 L2.9 0 A2.9 2.9 0 1 1 1.20 5.25Z" fill="#7d7a96"/></svg>
<div style="left:681.8px;top:806px;width:76.2px;height:11.2px;background:#22ad5c;border-radius:1.6px;"></div>
<span class="t" style="left:685.2px;top:809.2px;font-size:6.6px;line-height:6.6px;color:#fff;font-weight:700;">67%</span>
<svg style="left:662.2px;top:829.4px;" width="11.6" height="11.6" viewBox="0 0 5.8 5.8"><circle cx="2.9" cy="2.9" r="2.9" fill="#e1dff0"/><path d="M2.9 2.9 L2.9 0 A2.9 2.9 0 0 1 2.90 5.80Z" fill="#7d7a96"/></svg>
<div style="left:681.8px;top:829.6px;width:24.2px;height:11.2px;background:#858299;border-radius:1.6px;"></div>
<span class="t" style="left:685.2px;top:832.8px;font-size:6.6px;line-height:6.6px;color:#fff;font-weight:700;">N/A</span>
<svg style="left:779.8px;top:710.4px;" width="11.6" height="11.6" viewBox="0 0 5.8 5.8"><circle cx="2.9" cy="2.9" r="2.9" fill="#e1dff0"/><path d="M2.9 2.9 L2.9 0 A2.9 2.9 0 0 1 5.44 4.30Z" fill="#7d7a96"/></svg>
<div style="left:800px;top:710.6px;width:41.2px;height:11.2px;background:#93e3b4;border-radius:1.6px;"></div>
<span class="t" style="left:803.4px;top:713.8px;font-size:6.6px;line-height:6.6px;color:#fff;font-weight:700;">15%</span>
<svg style="left:779.8px;top:734.2px;" width="11.6" height="11.6" viewBox="0 0 5.8 5.8"><circle cx="2.9" cy="2.9" r="2.9" fill="#e1dff0"/><path d="M2.9 2.9 L2.9 0 A2.9 2.9 0 1 1 1.20 5.25Z" fill="#7d7a96"/></svg>
<div style="left:800px;top:734.4px;width:24px;height:11.2px;background:#858299;border-radius:1.6px;"></div>
<span class="t" style="left:803.4px;top:737.6px;font-size:6.6px;line-height:6.6px;color:#fff;font-weight:700;">N/A</span>
<svg style="left:779.8px;top:758.2px;" width="11.6" height="11.6" viewBox="0 0 5.8 5.8"><circle cx="2.9" cy="2.9" r="2.9" fill="#e1dff0"/><path d="M2.9 2.9 L2.9 0 A2.9 2.9 0 0 1 2.90 5.80Z" fill="#7d7a96"/></svg>
<div style="left:800px;top:758.4px;width:64px;height:11.2px;background:#22ad5c;border-radius:1.6px;"></div>
<span class="t" style="left:803.4px;top:761.6px;font-size:6.6px;line-height:6.6px;color:#fff;font-weight:700;">15%</span>
<svg style="left:779.8px;top:782px;" width="11.6" height="11.6" viewBox="0 0 5.8 5.8"><circle cx="2.9" cy="2.9" r="2.9" fill="#e1dff0"/><path d="M2.9 2.9 L2.9 0 A2.9 2.9 0 1 1 0.55 1.20Z" fill="#7d7a96"/></svg>
<div style="left:800px;top:782.2px;width:47.6px;height:11.2px;background:#47bd78;border-radius:1.6px;"></div>
<span class="t" style="left:803.4px;top:785.4px;font-size:6.6px;line-height:6.6px;color:#fff;font-weight:700;">54%</span>
<svg style="left:779.8px;top:805.8px;" width="11.6" height="11.6" viewBox="0 0 5.8 5.8"><circle cx="2.9" cy="2.9" r="2.9" fill="#e1dff0"/><path d="M2.9 2.9 L2.9 0 A2.9 2.9 0 0 1 2.90 5.80Z" fill="#7d7a96"/></svg>
<div style="left:800px;top:806px;width:24px;height:11.2px;background:#858299;border-radius:1.6px;"></div>
<span class="t" style="left:803.4px;top:809.2px;font-size:6.6px;line-height:6.6px;color:#fff;font-weight:700;">N/A</span>
<svg style="left:779.8px;top:829.4px;" width="11.6" height="11.6" viewBox="0 0 5.8 5.8"><circle cx="2.9" cy="2.9" r="2.9" fill="#7d7a96"/></svg>
<div style="left:800px;top:829.6px;width:41.2px;height:11.2px;background:#5dd58e;border-radius:1.6px;"></div>
<span class="t" style="left:803.4px;top:832.8px;font-size:6.6px;line-height:6.6px;color:#fff;font-weight:700;">32%</span>
<svg style="left:886px;top:710.4px;" width="11.6" height="11.6" viewBox="0 0 5.8 5.8"><circle cx="2.9" cy="2.9" r="2.9" fill="#7d7a96"/></svg>
<div style="left:906px;top:710.6px;width:70.4px;height:11.2px;background:#22ad5c;border-radius:1.6px;"></div>
<span class="t" style="left:909.4px;top:713.8px;font-size:6.6px;line-height:6.6px;color:#fff;font-weight:700;">15%</span>
<svg style="left:886px;top:734.2px;" width="11.6" height="11.6" viewBox="0 0 5.8 5.8"><circle cx="2.9" cy="2.9" r="2.9" fill="#e1dff0"/><path d="M2.9 2.9 L2.9 0 A2.9 2.9 0 0 1 2.90 5.80Z" fill="#7d7a96"/></svg>
<div style="left:906px;top:734.4px;width:31.8px;height:11.2px;background:#f9595f;border-radius:1.6px;"></div>
<span class="t" style="left:909.4px;top:737.6px;font-size:6.6px;line-height:6.6px;color:#fff;font-weight:700;">25%</span>
<svg style="left:886px;top:758.2px;" width="11.6" height="11.6" viewBox="0 0 5.8 5.8"><circle cx="2.9" cy="2.9" r="2.9" fill="#e1dff0"/><path d="M2.9 2.9 L2.9 0 A2.9 2.9 0 1 1 0.55 1.20Z" fill="#7d7a96"/></svg>
<div style="left:906px;top:758.4px;width:66.2px;height:11.2px;background:#f9595f;border-radius:1.6px;"></div>
<span class="t" style="left:909.4px;top:761.6px;font-size:6.6px;line-height:6.6px;color:#fff;font-weight:700;">15%</span>
<svg style="left:886px;top:782px;" width="11.6" height="11.6" viewBox="0 0 5.8 5.8"><circle cx="2.9" cy="2.9" r="2.9" fill="#e1dff0"/><path d="M2.9 2.9 L2.9 0 A2.9 2.9 0 1 1 0.00 2.90Z" fill="#7d7a96"/></svg>
<div style="left:906px;top:782.2px;width:24.6px;height:11.2px;background:#858299;border-radius:1.6px;"></div>
<span class="t" style="left:909.4px;top:785.4px;font-size:6.6px;line-height:6.6px;color:#fff;font-weight:700;">N/A</span>
<svg style="left:886px;top:805.8px;" width="11.6" height="11.6" viewBox="0 0 5.8 5.8"><circle cx="2.9" cy="2.9" r="2.9" fill="#e1dff0"/><path d="M2.9 2.9 L2.9 0 A2.9 2.9 0 1 1 2.00 5.66Z" fill="#7d7a96"/></svg>
<div style="left:906px;top:806px;width:42.6px;height:11.2px;background:#47bd78;border-radius:1.6px;"></div>
<span class="t" style="left:909.4px;top:809.2px;font-size:6.6px;line-height:6.6px;color:#fff;font-weight:700;">67%</span>
<svg style="left:886px;top:829.4px;" width="11.6" height="11.6" viewBox="0 0 5.8 5.8"><circle cx="2.9" cy="2.9" r="2.9" fill="#e1dff0"/><path d="M2.9 2.9 L2.9 0 A2.9 2.9 0 0 1 3.80 5.66Z" fill="#7d7a96"/></svg>
<div style="left:906px;top:829.6px;width:40px;height:11.2px;background:#93e3b4;border-radius:1.6px;"></div>
<span class="t" style="left:909.4px;top:832.8px;font-size:6.6px;line-height:6.6px;color:#fff;font-weight:700;">32%</span>
<svg style="left:997.2px;top:710.4px;" width="11.6" height="11.6" viewBox="0 0 5.8 5.8"><circle cx="2.9" cy="2.9" r="2.9" fill="#e1dff0"/><path d="M2.9 2.9 L2.9 0 A2.9 2.9 0 1 1 0.55 1.20Z" fill="#7d7a96"/></svg>
<div style="left:1018px;top:710.6px;width:82px;height:11.2px;background:#22ad5c;border-radius:1.6px;"></div>
<span class="t" style="left:1021.4px;top:713.8px;font-size:6.6px;line-height:6.6px;color:#fff;font-weight:700;">15%</span>
<svg style="left:997.2px;top:734.2px;" width="11.6" height="11.6" viewBox="0 0 5.8 5.8"><circle cx="2.9" cy="2.9" r="2.9" fill="#e1dff0"/><path d="M2.9 2.9 L2.9 0 A2.9 2.9 0 0 1 4.60 5.25Z" fill="#7d7a96"/></svg>
<div style="left:1018px;top:734.4px;width:59px;height:11.2px;background:#47bd78;border-radius:1.6px;"></div>
<span class="t" style="left:1021.4px;top:737.6px;font-size:6.6px;line-height:6.6px;color:#fff;font-weight:700;">25%</span>
<svg style="left:997.2px;top:758.2px;" width="11.6" height="11.6" viewBox="0 0 5.8 5.8"><circle cx="2.9" cy="2.9" r="2.9" fill="#e1dff0"/><path d="M2.9 2.9 L2.9 0 A2.9 2.9 0 1 1 0.14 3.80Z" fill="#7d7a96"/></svg>
<div style="left:1018px;top:758.4px;width:30px;height:11.2px;background:#858299;border-radius:1.6px;"></div>
<span class="t" style="left:1021.4px;top:761.6px;font-size:6.6px;line-height:6.6px;color:#fff;font-weight:700;">N/A</span>
<svg style="left:997.2px;top:782px;" width="11.6" height="11.6" viewBox="0 0 5.8 5.8"><circle cx="2.9" cy="2.9" r="2.9" fill="#e1dff0"/><path d="M2.9 2.9 L2.9 0 A2.9 2.9 0 1 1 0.14 2.00Z" fill="#7d7a96"/></svg>
<div style="left:1018px;top:782.2px;width:35.6px;height:11.2px;background:#f9595f;border-radius:1.6px;"></div>
<span class="t" style="left:1021.4px;top:785.4px;font-size:6.6px;line-height:6.6px;color:#fff;font-weight:700;">54%</span>
<svg style="left:997.2px;top:805.8px;" width="11.6" height="11.6" viewBox="0 0 5.8 5.8"><circle cx="2.9" cy="2.9" r="2.9" fill="#e1dff0"/><path d="M2.9 2.9 L2.9 0 A2.9 2.9 0 0 1 4.60 5.25Z" fill="#7d7a96"/></svg>
<div style="left:1018px;top:806px;width:44.8px;height:11.2px;background:#22ad5c;border-radius:1.6px;"></div>
<span class="t" style="left:1021.4px;top:809.2px;font-size:6.6px;line-height:6.6px;color:#fff;font-weight:700;">67%</span>
<svg style="left:997.2px;top:829.4px;" width="11.6" height="11.6" viewBox="0 0 5.8 5.8"><circle cx="2.9" cy="2.9" r="2.9" fill="#e1dff0"/><path d="M2.9 2.9 L2.9 0 A2.9 2.9 0 0 1 2.90 5.80Z" fill="#7d7a96"/></svg>
<div style="left:1018px;top:829.6px;width:26px;height:11.2px;background:#858299;border-radius:1.6px;"></div>
<span class="t" style="left:1021.4px;top:832.8px;font-size:6.6px;line-height:6.6px;color:#fff;font-weight:700;">N/A</span>
<div style="left:651.2px;top:732px;width:47.6px;height:10.4px;background:#4a4662;border-radius:2px;"></div>
<span class="t" style="left:675px;transform:translateX(-50%);top:734.4px;font-size:6px;line-height:6px;color:#fff;">Scored: 78%</span>
<svg style="left:665.6px;top:719.2px;" width="7.8" height="10" viewBox="0 0 42 54"><path d="M2 2 L2 40 L12 31 L20 50 L27 47 L19 29 L33 29 Z" fill="#fff" stroke="#2a2640" stroke-width="4" stroke-linejoin="round"/></svg>
<span class="t" style="left:970.4px;top:861.7px;font-size:6.2px;line-height:6.2px;color:#5a5672;letter-spacing:-0.01px;">Rows per page:</span>
<div style="left:1020.4px;top:857.6px;width:17.8px;height:14.4px;background:#efeff4;border-radius:2px;"></div>
<span class="t" style="left:1029.2px;transform:translateX(-50%);top:861.7px;font-size:6.2px;line-height:6.2px;color:#5a5672;">12</span>
<span class="t" style="left:1056.4px;top:861.7px;font-size:6.2px;line-height:6.2px;color:#5a5672;letter-spacing:-0.31px;">Page</span>
<div style="left:1076.6px;top:857.6px;width:15.6px;height:14.4px;background:#ececf1;border-radius:2px;"></div>
<div style="left:1096.6px;top:857.6px;width:17.4px;height:14.4px;background:#efeff4;border-radius:2px;"></div>
<span class="t" style="left:1105.2px;transform:translateX(-50%);top:861.7px;font-size:6.2px;line-height:6.2px;color:#5a5672;">12</span>
<div style="left:1118px;top:857.6px;width:16px;height:14.4px;background:#ececf1;border-radius:2px;"></div>
<svg style="left:1080.2px;top:861.2px;" width="8.4" height="7.2" viewBox="0 0 42 36"><path d="M40 18 H4 M18 3 L3 18 L18 33" stroke="#2a2640" stroke-width="5" fill="none"/></svg>
<svg style="left:1121.8px;top:861.2px;" width="8.4" height="7.2" viewBox="0 0 42 36"><path d="M2 18 H38 M24 3 L39 18 L24 33" stroke="#2a2640" stroke-width="5" fill="none"/></svg>
<span class="t" style="left:1141.4px;top:861.7px;font-size:6.2px;line-height:6.2px;color:#5a5672;letter-spacing:0.45px;">of 15</span>
</div></body></html>
